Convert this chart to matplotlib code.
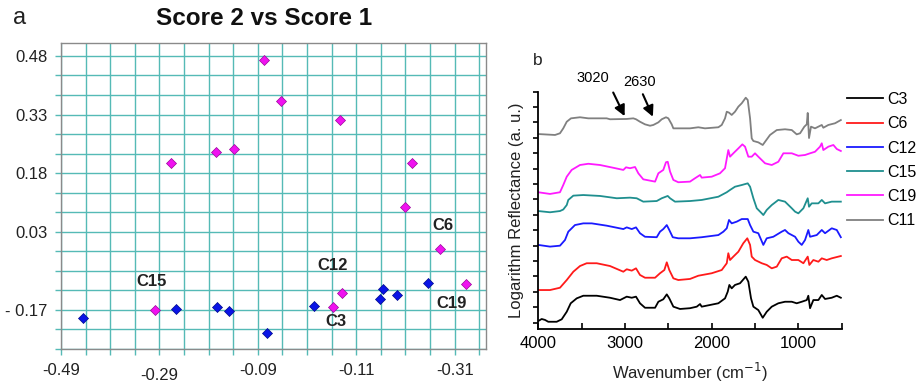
import numpy as np
import matplotlib
matplotlib.use('Agg')
import matplotlib.pyplot as plt

plt.rcParams['font.family'] = ['Liberation Sans', 'DejaVu Sans']

# ---------------- Panel a data (PCA scores) ----------------
pink_x = [-0.077, -0.043, 0.076, -0.175, -0.139, -0.267, 0.224, 0.208, 0.281, 0.333, 0.082, 0.062, -0.298]
pink_y = [0.469, 0.365, 0.316, 0.235, 0.241, 0.205, 0.207, 0.094, -0.013, -0.104, -0.126, -0.162, -0.169]
blue_x = [0.255, 0.165, 0.158, 0.193, 0.025, -0.071, -0.148, -0.173, -0.257, -0.445]
blue_y = [-0.102, -0.116, -0.141, -0.133, -0.159, -0.230, -0.172, -0.162, -0.167, -0.190]
label_names = ['C15', 'C12', 'C6', 'C19', 'C3']
label_x = [-0.298, 0.082, 0.281, 0.333, 0.062]
label_y = [-0.169, -0.126, -0.013, -0.104, -0.162]
label_offsets = [(-2.6, 20.2), (-7.2, 19.9), (1.7, 16.6), (-10.3, -13.7), (2.2, -10.8)]

xtick_vals = [-0.49, -0.29, -0.09, 0.11, 0.31]
xtick_text = ['-0.49', '-0.29', '-0.09', '-0.11', '-0.31']
ytick_vals = [0.48, 0.33, 0.18, 0.03, -0.17]
ytick_text = ['0.48', '0.33', '0.18', '0.03', '- 0.17']

# ---------------- Panel b data (spectra) ----------------
c11_wn = [4000, 3807, 3750, 3712, 3672, 3623, 3519, 3423, 3211, 3173, 2980, 2904, 2873, 2827, 2769, 2711, 2673, 2615,
          2576, 2527, 2500, 2461, 2442, 2385, 2250, 2154, 2077, 1923, 1884, 1846, 1826, 1800, 1769, 1731, 1692, 1653,
          1607, 1584, 1557, 1538, 1519, 1462, 1411, 1384, 1327, 1249, 1154, 1076, 1019, 980, 931, 903, 892, 877, 854,
          808, 769, 730, 712, 654, 577, 510]
c11_y = [12.25, 12.19, 12.30, 12.62, 13.05, 13.27, 13.34, 13.27, 13.27, 13.21, 13.23, 13.27, 13.21, 13.05, 12.88, 12.79,
         12.84, 13.01, 13.21, 13.34, 13.27, 12.88, 12.62, 12.62, 12.62, 12.69, 12.62, 12.69, 12.84, 13.27, 13.70, 13.64,
         13.49, 13.70, 14.03, 14.25, 14.61, 14.46, 13.27, 11.97, 11.80, 11.71, 11.54, 11.75, 12.19, 12.51, 12.56, 12.51,
         12.23, 12.30, 12.73, 12.88, 13.62, 11.99, 12.73, 12.62, 12.73, 12.84, 12.66, 12.84, 12.95, 13.16]

c19_wn = [4000, 3865, 3750, 3712, 3672, 3615, 3519, 3423, 3288, 3135, 3019, 2988, 2942, 2884, 2846, 2789, 2653, 2615,
          2558, 2527, 2507, 2480, 2442, 2385, 2250, 2192, 2134, 2115, 2000, 1904, 1846, 1808, 1788, 1750, 1692, 1646,
          1615, 1577, 1538, 1500, 1462, 1384, 1307, 1231, 1173, 1076, 1000, 923, 865, 808, 750, 730, 712, 654, 596,
          557, 510]
c19_y = [8.47, 8.36, 8.47, 8.94, 9.48, 9.92, 10.24, 10.32, 10.24, 10.06, 9.92, 10.09, 10.03, 10.11, 9.70, 9.31, 9.16,
         9.70, 9.92, 10.42, 10.45, 9.81, 9.27, 9.12, 9.16, 9.38, 9.59, 9.42, 9.48, 9.70, 10.03, 11.21, 10.78, 11.00,
         11.32, 11.58, 11.43, 10.78, 10.78, 11.00, 10.78, 10.35, 10.24, 10.45, 11.00, 11.00, 10.84, 10.89, 11.00, 11.10,
         11.43, 11.65, 11.21, 11.43, 11.54, 11.28, 11.15]

c15_wn = [4000, 3865, 3750, 3712, 3672, 3654, 3596, 3481, 3288, 3095, 2942, 2865, 2789, 2634, 2576, 2507, 2480, 2423,
          2250, 2115, 1923, 1826, 1788, 1731, 1653, 1584, 1557, 1519, 1480, 1422, 1404, 1365, 1307, 1231, 1154, 1076,
          1038, 1000, 942, 892, 877, 846, 769, 730, 692, 615, 510]
c15_y = [7.25, 7.17, 7.25, 7.35, 7.64, 7.97, 8.25, 8.29, 8.23, 8.08, 8.12, 8.08, 7.86, 7.90, 8.08, 8.23, 8.08, 7.86,
         7.90, 7.97, 8.18, 8.47, 8.62, 8.83, 8.94, 9.05, 8.83, 8.08, 7.43, 7.10, 6.99, 7.32, 7.64, 7.97, 7.86, 7.43,
         7.21, 7.10, 7.43, 8.08, 7.53, 7.75, 7.75, 7.97, 7.75, 7.86, 7.86]

c12_wn = [4000, 3865, 3750, 3692, 3654, 3577, 3481, 3384, 3211, 3019, 2980, 2922, 2873, 2827, 2769, 2634, 2596, 2558,
          2518, 2489, 2449, 2385, 2250, 2115, 1923, 1865, 1826, 1800, 1769, 1711, 1653, 1584, 1557, 1519, 1462, 1404,
          1365, 1289, 1192, 1154, 1115, 1038, 1000, 961, 923, 885, 865, 788, 730, 692, 615, 557, 510]
c12_y = [5.05, 4.94, 5.00, 5.37, 5.91, 6.34, 6.45, 6.45, 6.30, 6.08, 6.19, 6.08, 6.19, 5.81, 5.58, 5.55, 5.91, 6.08,
         6.34, 6.02, 5.55, 5.48, 5.48, 5.55, 5.69, 5.91, 6.13, 6.67, 6.45, 6.56, 6.73, 6.73, 6.34, 5.91, 5.81, 5.05,
         5.48, 5.58, 5.91, 6.02, 5.81, 5.58, 5.26, 5.05, 5.37, 6.02, 5.58, 5.69, 6.02, 5.81, 6.13, 6.02, 5.55]

c6_wn = [4000, 3865, 3750, 3672, 3596, 3519, 3442, 3326, 3173, 3019, 2980, 2922, 2873, 2827, 2769, 2653, 2596, 2546,
         2518, 2489, 2442, 2385, 2250, 2154, 2000, 1884, 1826, 1808, 1788, 1750, 1692, 1635, 1589, 1557, 1538, 1500,
         1422, 1365, 1307, 1249, 1192, 1134, 1076, 1000, 942, 892, 873, 827, 769, 730, 673, 615, 510]
c6_y = [2.12, 2.12, 2.27, 2.77, 3.31, 3.68, 3.86, 3.86, 3.68, 3.31, 3.47, 3.38, 3.53, 3.10, 2.92, 2.92, 3.21, 3.42,
        3.92, 3.42, 2.88, 2.77, 2.84, 3.05, 3.21, 3.42, 3.86, 4.51, 4.07, 4.29, 4.61, 5.16, 5.48, 5.05, 4.29, 4.07,
        3.86, 3.75, 3.53, 3.64, 4.18, 4.29, 4.07, 4.07, 3.86, 4.29, 3.75, 4.07, 3.96, 4.18, 4.07, 4.18, 4.33]

c3_wn = [4000, 3961, 3923, 3885, 3788, 3730, 3672, 3626, 3557, 3481, 3326, 3173, 3057, 2980, 2922, 2873, 2827, 2769,
         2653, 2615, 2558, 2518, 2489, 2442, 2365, 2250, 2172, 2134, 2115, 1923, 1846, 1815, 1796, 1769, 1731, 1673,
         1607, 1577, 1546, 1519, 1462, 1411, 1365, 1307, 1231, 1154, 1076, 1019, 961, 903, 885, 865, 827, 769, 730,
         692, 615, 557, 510]
c3_y = [0.11, 0.24, 0.18, 0.06, 0.06, 0.22, 0.71, 1.26, 1.58, 1.75, 1.75, 1.62, 1.47, 1.69, 1.62, 1.69, 1.26, 0.97,
        0.97, 1.36, 1.52, 1.84, 1.58, 1.04, 0.89, 0.94, 1.04, 1.21, 1.04, 1.26, 1.58, 2.01, 2.45, 2.23, 2.45, 2.56,
        2.99, 2.66, 1.58, 1.04, 0.82, 0.32, 0.71, 1.04, 1.26, 1.36, 1.36, 1.26, 1.36, 1.47, 1.75, 0.94, 1.47, 1.47,
        1.80, 1.54, 1.62, 1.75, 1.62]

series_names = ['C3', 'C6', 'C12', 'C15', 'C19', 'C11']
series_wn = [c3_wn, c6_wn, c12_wn, c15_wn, c19_wn, c11_wn]
series_y = [c3_y, c6_y, c12_y, c15_y, c19_y, c11_y]
series_colors = ['#000000', '#ff1a1a', '#1a1aff', '#1f8f8f', '#ff1aff', '#808080']

xticks_b = [4000, 3500, 3000, 2500, 2000, 1500, 1000, 500]
xticklabels_b = ['4000', '', '3000', '', '2000', '', '1000', '']

# ---------------- Figure ----------------
W, H = 919, 386
fig = plt.figure(figsize=(W / 100, H / 100), dpi=100)

teal = '#55bab6'

# Panel a
axa = fig.add_axes([61 / W, 1 - 349 / H, (486 - 61) / W, (349 - 43) / H])
axa.set_xlim(-0.49, 0.3736)
axa.set_ylim(-0.27, 0.513)
gx = np.round(np.arange(-0.49, 0.37, 0.05), 2)
gy = np.round(np.arange(-0.27, 0.49, 0.05), 2)
axa.set_xticks(gx)
axa.set_yticks(gy)
xl = []
for v in gx:
    m = [t for tv, t in zip(xtick_vals, xtick_text) if abs(tv - v) < 1e-6]
    xl.append(m[0] if m else '')
yl = []
for v in gy:
    m = [t for tv, t in zip(ytick_vals, ytick_text) if abs(tv - v) < 1e-6]
    yl.append(m[0] if m else '')
axa.set_xticklabels(xl)
axa.set_yticklabels(yl)
axa.grid(True, color=teal, lw=1.0)
axa.set_axisbelow(True)
axa.tick_params(axis='both', direction='out', length=4, width=1, color=teal, labelsize=12, labelcolor='#222222')
axa.tick_params(axis='y', pad=5.5)
axa.tick_params(axis='x', pad=6)
for sp in axa.spines.values():
    sp.set_color('#8a8a8a')
    sp.set_linewidth(1.0)
# stagger second label
for i, v in enumerate(gx):
    if abs(v - (-0.29)) < 1e-6:
        axa.xaxis.get_major_ticks()[i].set_pad(9.5)

axa.scatter(blue_x, blue_y, marker='D', s=26, color='#0a14e6', edgecolors='#000a8a', linewidths=0.5, zorder=3)
axa.scatter(pink_x, pink_y, marker='D', s=26, color='#f012f0', edgecolors='#9a089a', linewidths=0.5, zorder=3)
for name, x, y, off in zip(label_names, label_x, label_y, label_offsets):
    axa.annotate(name, xy=(x, y), xytext=off, textcoords='offset points', ha='center', va='center',
                 fontsize=12, fontweight='bold', color='#222222')

fig.text(264.5 / W, 1 - 25 / H, 'Score 2 vs Score 1', ha='center', va='baseline', fontsize=17.5,
         fontweight='bold', color='#111111')
fig.text(13 / W, 1 - 24.3 / H, 'a', ha='left', va='baseline', fontsize=17, color='#222222')

# Panel b
axb = fig.add_axes([538.3 / W, 1 - 329 / H, (841.7 - 538.3) / W, (329 - 91.7) / H])
for name, wn, y, c in zip(series_names, series_wn, series_y, series_colors):
    axb.plot(wn, y, color=c, lw=1.3, label=name)
axb.set_xlim(4000, 500)
axb.set_ylim(-0.41, 15.0)
axb.set_xticks(xticks_b)
axb.set_xticklabels(xticklabels_b)
axb.set_yticks(np.arange(0, 16, 1))
axb.set_yticklabels([])
axb.spines['top'].set_visible(False)
axb.spines['right'].set_visible(False)
for sp in ['left', 'bottom']:
    axb.spines[sp].set_linewidth(1.3)
axb.tick_params(axis='x', direction='in', length=4, width=1.2, labelsize=12, pad=5)
axb.tick_params(axis='y', direction='out', length=3.5, width=1.2)
axb.set_xlabel('Wavenumber (cm$^{-1}$)', fontsize=12, labelpad=7.5, color='#222222')
axb.set_ylabel('Logarithm Reflectance (a. u.)', fontsize=12, labelpad=3, color='#222222')

# annotations
axb.annotate('', xy=(2990, 13.25), xytext=(3150, 15.11),
             arrowprops=dict(arrowstyle='-|>', color='black', lw=1.5, mutation_scale=16),
             annotation_clip=False)
axb.annotate('', xy=(2665, 13.21), xytext=(2807, 15.0),
             arrowprops=dict(arrowstyle='-|>', color='black', lw=1.5, mutation_scale=16),
             annotation_clip=False)
axb.text(3369, 15.89, '3020', ha='center', va='center', fontsize=10.5, clip_on=False)
axb.text(2827, 15.63, '2630', ha='center', va='center', fontsize=10.5, clip_on=False)

fig.text(533 / W, 1 - 65 / H, 'b', ha='left', va='baseline', fontsize=12.5, color='#222222')

axb.legend(loc='upper left', bbox_to_anchor=(846.7 / W, 1 - 92 / H), bbox_transform=fig.transFigure,
           frameon=False, fontsize=11.5, borderpad=0, borderaxespad=0, handlelength=2.25,
           handletextpad=0.3, labelspacing=0.58)

fig.savefig('out.png', dpi=100)
